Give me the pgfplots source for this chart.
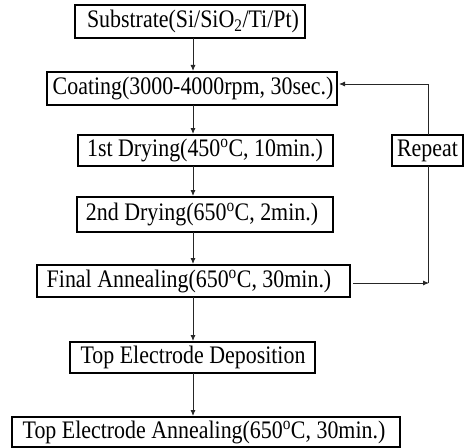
\documentclass[border=0pt]{standalone}
\usepackage{pgfplots}
\pgfplotsset{compat=1.18}
\usepackage{fontspec}
\setmainfont{Liberation Serif}
\usetikzlibrary{arrows.meta}
\newcommand{\T}[1]{\scalebox{1}[1.15]{\fontsize{22}{26}\selectfont #1}}
\begin{document}
\begin{tikzpicture}
\begin{axis}[width=468bp,height=448bp,scale only axis,
  xmin=0,xmax=468,ymin=0,ymax=448,y dir=reverse,hide axis,clip=false,
  box/.style={black,line width=1.6bp,mark=none,line cap=rect,line join=miter},
  arr/.style={black!85,line width=0.9bp,mark=none,-{Latex[length=6bp,width=5bp]}},
  ln/.style={black!85,line width=0.9bp,mark=none}]
\addplot[draw=none] coordinates {(0,0) (468,448)};
% boxes
\addplot[box] coordinates {(75,5) (305,5) (305,38) (75,38) (75,5)};
\addplot[box] coordinates {(47,72) (337,72) (337,105) (47,105) (47,72)};
\addplot[box] coordinates {(78,135) (333,135) (333,166) (78,166) (78,135)};
\addplot[box] coordinates {(392,135) (463,135) (463,166) (392,166) (392,135)};
\addplot[box] coordinates {(77,197) (333,197) (333,232) (77,232) (77,197)};
\addplot[box] coordinates {(37,265) (350,265) (350,297) (37,297) (37,265)};
\addplot[box] coordinates {(70,342) (315,342) (315,373) (70,373) (70,342)};
\addplot[box] coordinates {(12,417) (400,417) (400,447) (12,447) (12,417)};
% arrows
\addplot[arr] coordinates {(193,38) (193,71)};
\addplot[arr] coordinates {(193,105) (193,134)};
\addplot[arr] coordinates {(193,166) (193,196)};
\addplot[arr] coordinates {(193,232) (193,264)};
\addplot[arr] coordinates {(193,297) (193,341)};
\addplot[arr] coordinates {(193,373) (193,416)};
\addplot[arr] coordinates {(428,135) (428,84) (339,84)};
\addplot[ln] coordinates {(428,166) (428,283)};
\addplot[arr] coordinates {(353,283) (429,283)};
% texts
\node[inner sep=0pt] at (axis cs:193,21.5) {\T{Substrate(Si/SiO\textsubscript{2}/Ti/Pt)}};
\node[inner sep=0pt] at (axis cs:193,88.5) {\T{Coating(3000-4000rpm, 30sec.)}};
\node[inner sep=0pt] at (axis cs:205,150.5) {\T{1st Drying(450\textsuperscript{o}C, 10min.)}};
\node[inner sep=0pt] at (axis cs:427.5,150.5) {\T{Repeat}};
\node[inner sep=0pt] at (axis cs:202,214.5) {\T{2nd Drying(650\textsuperscript{o}C, 2min.)}};
\node[inner sep=0pt] at (axis cs:189,281) {\T{Final Annealing(650\textsuperscript{o}C, 30min.)}};
\node[inner sep=0pt] at (axis cs:193,357.5) {\T{Top Electrode Deposition}};
\node[inner sep=0pt] at (axis cs:204,432) {\T{Top Electrode Annealing(650\textsuperscript{o}C, 30min.)}};
\end{axis}
\end{tikzpicture}
\end{document}
